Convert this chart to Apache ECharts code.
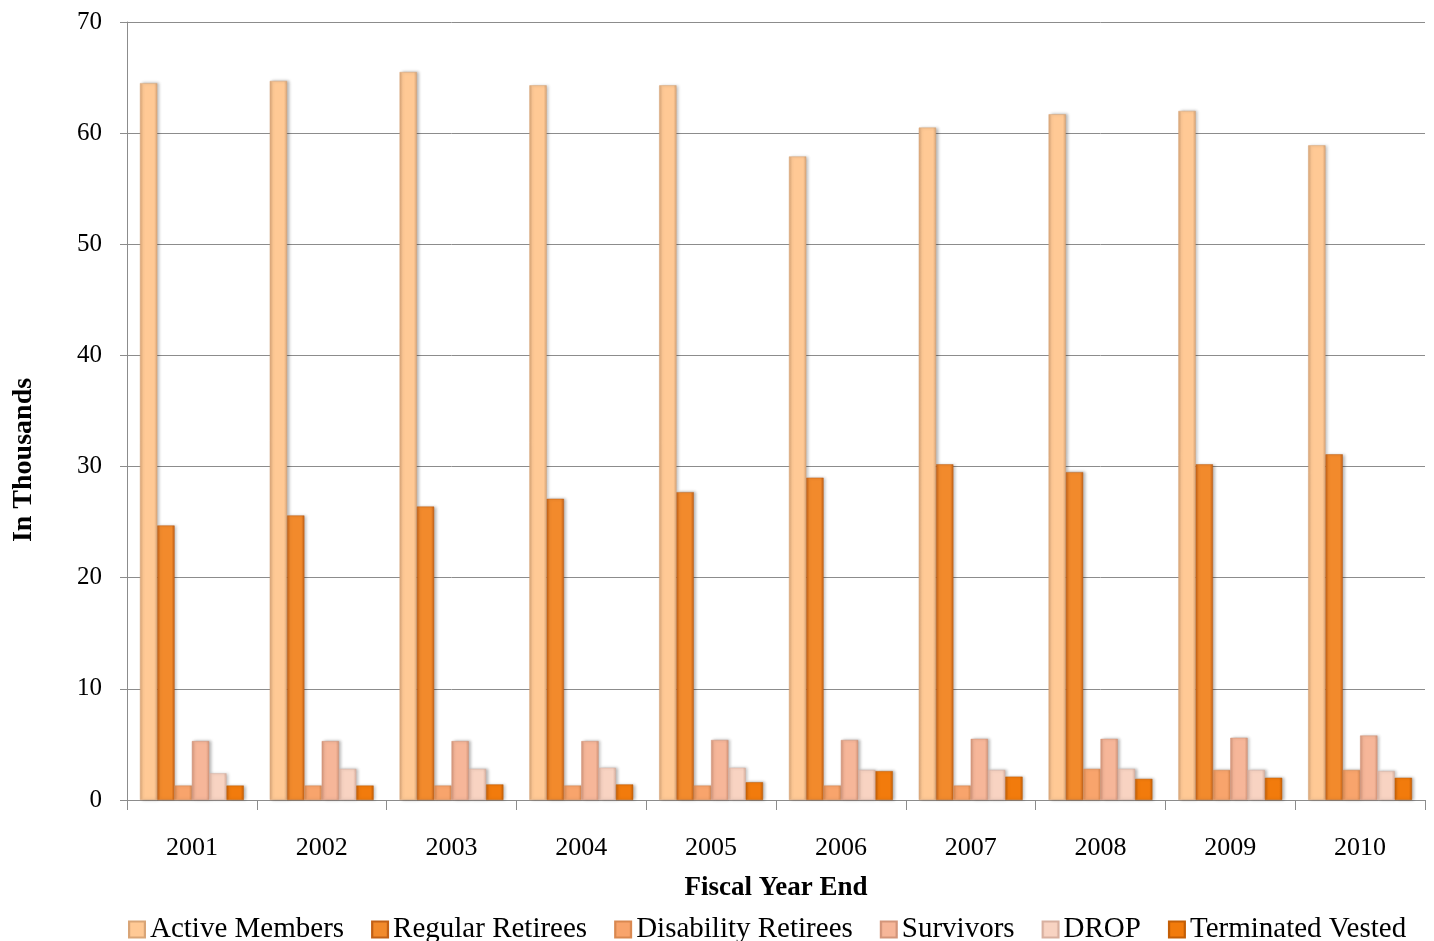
<!DOCTYPE html>
<html>
<head>
<meta charset="utf-8">
<style>
  html, body { margin: 0; padding: 0; background: #ffffff; }
  #chart { width: 1434px; height: 941px; }
</style>
<script src="https://cdn.jsdelivr.net/npm/echarts@6/dist/echarts.min.js"></script>
</head>
<body>
<div id="chart"></div>
<script>
// Membership counts by fiscal year end, in thousands
const years = ['2001', '2002', '2003', '2004', '2005', '2006', '2007', '2008', '2009', '2010'];
const activeMembers      = [64.5, 64.7, 65.5, 64.3, 64.3, 57.9, 60.5, 61.7, 62.0, 58.9];
const regularRetirees    = [24.7, 25.6, 26.4, 27.1, 27.7, 29.0, 30.2, 29.5, 30.2, 31.1];
const disabilityRetirees = [1.3, 1.3, 1.3, 1.3, 1.3, 1.3, 1.3, 2.8, 2.7, 2.7];
const survivors          = [5.3, 5.3, 5.3, 5.3, 5.4, 5.4, 5.5, 5.5, 5.6, 5.8];
const drop               = [2.4, 2.8, 2.8, 2.9, 2.9, 2.7, 2.7, 2.8, 2.7, 2.6];
const terminatedVested   = [1.3, 1.3, 1.4, 1.4, 1.6, 2.6, 2.1, 1.9, 2.0, 2.0];
const yTicks = [0, 10, 20, 30, 40, 50, 60, 70];

const FONT = '"Liberation Serif", "DejaVu Serif", serif';

// Bevelled bar face: darker edges, lighter centre
function face(edge, mid) {
  return new echarts.graphic.LinearGradient(0, 0, 1, 0, [
    { offset: 0, color: edge },
    { offset: 0.18, color: mid },
    { offset: 0.82, color: mid },
    { offset: 1, color: edge }
  ]);
}

const seriesDefs = [
  { name: 'Active Members',      data: activeMembers,      edge: '#d9a577', mid: '#ffc995' },
  { name: 'Regular Retirees',    data: regularRetirees,    edge: '#c26016', mid: '#f28a2c' },
  { name: 'Disability Retirees', data: disabilityRetirees, edge: '#d98850', mid: '#f8a46c' },
  { name: 'Survivors',           data: survivors,          edge: '#d3957a', mid: '#f6b699' },
  { name: 'DROP',                data: drop,               edge: '#d8b0a0', mid: '#f8d3c2' },
  { name: 'Terminated Vested',   data: terminatedVested,   edge: '#c45e06', mid: '#f27b0c' }
];

const chart = echarts.init(document.getElementById('chart'), null, { renderer: 'canvas' });

chart.setOption({
  backgroundColor: '#ffffff',
  animation: false,
  textStyle: { fontFamily: FONT },
  grid: { left: 127, right: 9, top: 22, bottom: 141 },
  legend: {
    top: 915,
    left: 128,
    padding: 0,
    itemWidth: 16,
    itemHeight: 16,
    itemGap: 27,
    icon: 'rect',
    textStyle: { fontFamily: FONT, fontSize: 29, color: '#000000' },
    data: seriesDefs.map(s => ({
      name: s.name,
      itemStyle: { color: face(s.edge, s.mid) }
    }))
  },
  xAxis: {
    type: 'category',
    data: years,
    name: 'Fiscal Year End',
    nameLocation: 'middle',
    nameGap: 75,
    nameTextStyle: { fontFamily: FONT, fontSize: 27, fontWeight: 'bold', color: '#000000' },
    axisLine: { lineStyle: { color: '#8c8c8c', width: 1 } },
    axisTick: { show: true, length: 10, alignWithLabel: false, lineStyle: { color: '#8c8c8c' } },
    axisLabel: { fontFamily: FONT, fontSize: 26, color: '#000000', margin: 35 }
  },
  yAxis: {
    type: 'value',
    min: yTicks[0],
    max: yTicks[yTicks.length - 1],
    interval: 10,
    axisLine: { show: true, lineStyle: { color: '#8c8c8c', width: 1 } },
    axisTick: { show: true, inside: false, length: 7, lineStyle: { color: '#8c8c8c' } },
    axisLabel: { fontFamily: FONT, fontSize: 25, color: '#000000', margin: 25 },
    splitLine: { show: true, lineStyle: { color: '#8c8c8c', width: 1 } }
  },
  graphic: [{
    type: 'text',
    x: 24,
    y: 460,
    rotation: Math.PI / 2,
    style: {
      text: 'In Thousands',
      fontFamily: FONT,
      fontSize: 28,
      fontWeight: 'bold',
      fill: '#000000',
      align: 'center',
      verticalAlign: 'middle'
    }
  }],
  series: seriesDefs.map(s => ({
    name: s.name,
    type: 'bar',
    data: s.data,
    barGap: '0%',
    barCategoryGap: '20%',
    itemStyle: {
      color: face(s.edge, s.mid),
      borderColor: s.edge,
      borderWidth: 0.5,
      shadowColor: 'rgba(0,0,0,0.28)',
      shadowBlur: 3,
      shadowOffsetX: 2,
      shadowOffsetY: 0
    }
  }))
});
</script>
</body>
</html>
